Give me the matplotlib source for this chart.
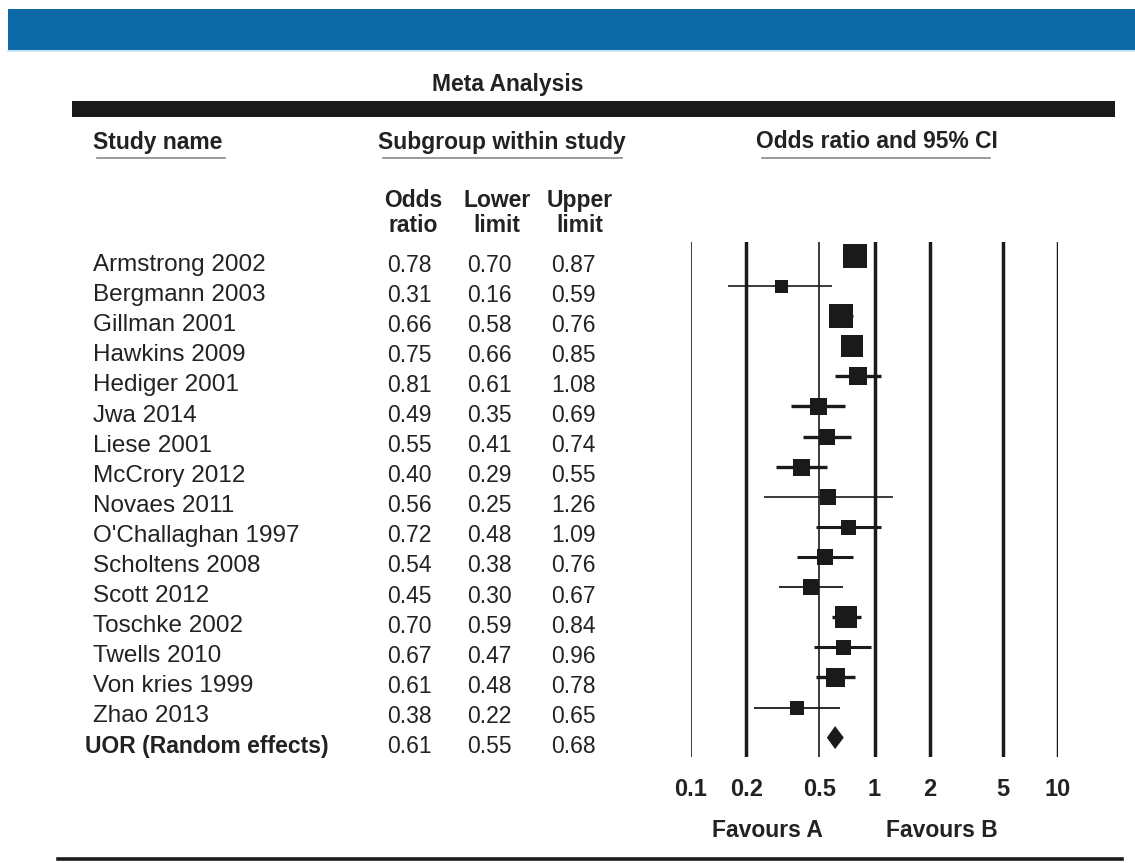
import matplotlib
matplotlib.use("Agg")
import matplotlib.pyplot as plt
import matplotlib.transforms as mtransforms
from matplotlib.patches import Rectangle

# --- data ---
studies = [
    "Armstrong 2002", "Bergmann 2003", "Gillman 2001", "Hawkins 2009",
    "Hediger 2001", "Jwa 2014", "Liese 2001", "McCrory 2012", "Novaes 2011",
    "O'Challaghan 1997", "Scholtens 2008", "Scott 2012", "Toschke 2002",
    "Twells 2010", "Von kries 1999", "Zhao 2013",
]
odds = [0.78, 0.31, 0.66, 0.75, 0.81, 0.49, 0.55, 0.40, 0.56,
        0.72, 0.54, 0.45, 0.70, 0.67, 0.61, 0.38]
lower = [0.70, 0.16, 0.58, 0.66, 0.61, 0.35, 0.41, 0.29, 0.25,
         0.48, 0.38, 0.30, 0.59, 0.47, 0.48, 0.22]
upper = [0.87, 0.59, 0.76, 0.85, 1.08, 0.69, 0.74, 0.55, 1.26,
         1.09, 0.76, 0.67, 0.84, 0.96, 0.78, 0.65]
# relative study weight -> box size (px)
box_px = [24, 13, 24, 23, 18, 17, 16, 17, 16, 15, 16, 16, 22, 15, 19, 14]

pooled_name = "UOR (Random effects)"
pooled = (0.61, 0.55, 0.68)

ticks = [0.1, 0.2, 0.5, 1, 2, 5, 10]
tick_labels = ["0.1", "0.2", "0.5", "1", "2", "5", "10"]

W, H = 1135, 863
FONT = "Liberation Sans"
TXT = "#222222"
FS = 16.5

fig = plt.figure(figsize=(W / 100, H / 100), dpi=100)
plt.rcParams["font.family"] = [FONT, "DejaVu Sans"]

# background axes in pixel coordinates for the page layout
bg = fig.add_axes([0, 0, 1, 1])
bg.set_xlim(0, W)
bg.set_ylim(H, 0)
bg.axis("off")

bg.add_patch(Rectangle((8, 9), W - 8, 41, color="#0c69a6", lw=0))
bg.plot([8, W], [51, 51], color="#bfe3f0", lw=1.2)
bg.text(508, 85, "Meta Analysis", ha="center", va="center",
        fontsize=FS, fontweight="bold", color=TXT)
bg.add_patch(Rectangle((72, 101), 1115 - 72, 16, color="#1a1a1a", lw=0))
bg.plot([58, 1122], [859, 859], color="#1a1a1a", lw=2.6)

bg.text(93, 143, "Study name", ha="left", va="center",
        fontsize=FS, fontweight="bold", color=TXT)
bg.text(502, 142, "Subgroup within study", ha="center", va="center",
        fontsize=FS, fontweight="bold", color=TXT)
bg.text(877, 142, "Odds ratio and 95% CI", ha="center", va="center",
        fontsize=FS, fontweight="bold", color=TXT)
for x0, x1 in [(97, 225), (383, 622), (762, 990)]:
    bg.plot([x0, x1], [158, 158], color="#8a8a8a", lw=1.2)

for x, lab in [(413, "Odds\nratio"), (497, "Lower\nlimit"), (580, "Upper\nlimit")]:
    bg.text(x, 213, lab, ha="center", va="center", multialignment="center",
            fontsize=FS, fontweight="bold", color=TXT, linespacing=1.15)

# forest axes: log odds ratio scale
x_left, x_right = 691, 1058
y_top, y_bot = 242, 757
ax = fig.add_axes([x_left / W, 1 - y_bot / H, (x_right - x_left) / W, (y_bot - y_top) / H])
ax.set_xscale("log")
ax.set_xlim(0.1, 10)
pitch = 30.1
ax.set_ylim((y_bot - 256) / pitch, -(256 - y_top) / pitch)
ax.patch.set_alpha(0)
for s in ax.spines.values():
    s.set_visible(False)
ax.set_yticks([])
ax.set_xticks(ticks)
ax.set_xticklabels(tick_labels)
ax.xaxis.set_minor_locator(matplotlib.ticker.NullLocator())
ax.tick_params(axis="x", length=0, pad=15, labelsize=17, labelcolor=TXT)
for t in ax.get_xticklabels():
    t.set_fontweight("bold")

for v in ticks:
    thin = v in (0.1, 0.5)
    ax.axvline(v, color="#1a1a1a", lw=1.2 if thin else 2.5, zorder=1)

ci_lw = [2.0, 1.2, 2.0, 2.0, 2.4, 2.4, 2.4, 2.4, 1.2,
         2.2, 2.2, 1.3, 2.4, 2.2, 2.4, 1.3]
for i, (o, lo, hi) in enumerate(zip(odds, lower, upper)):
    ax.plot([lo, hi], [i, i], color="#1a1a1a", lw=ci_lw[i], zorder=2, solid_capstyle="butt")
    ax.plot([o], [i], marker="s", color="#1a1a1a", markersize=box_px[i] * 0.72,
            markeredgewidth=0, zorder=3)

n = len(studies)
po, plo, phi = pooled
dh = 11.5 / pitch
ax.fill([plo, po, phi, po], [n, n - dh, n, n + dh], color="#1a1a1a", lw=0, zorder=3)

# table text aligned to the forest rows
tr = mtransforms.blended_transform_factory(bg.transData, ax.transData)
off = 9 / pitch
for i, name in enumerate(studies + [pooled_name]):
    bold = i == n
    vals = (odds[i], lower[i], upper[i]) if i < n else pooled
    kw = dict(transform=tr, va="center", color=TXT,
              fontweight="bold" if bold else "normal")
    bg.text(85 if bold else 93, i + off, name, ha="left",
            fontsize=FS if bold else 17.5, **kw)
    kw["fontweight"] = "normal"
    for x, v in zip([387, 467, 551], vals):
        bg.text(x, i + off, f"{v:.2f}", ha="left", fontsize=FS, **kw)

bg.text(767, 830, "Favours A", ha="center", va="center",
        fontsize=FS, fontweight="bold", color=TXT)
bg.text(942, 830, "Favours B", ha="center", va="center",
        fontsize=FS, fontweight="bold", color=TXT)

fig.savefig("out.png", dpi=100)
